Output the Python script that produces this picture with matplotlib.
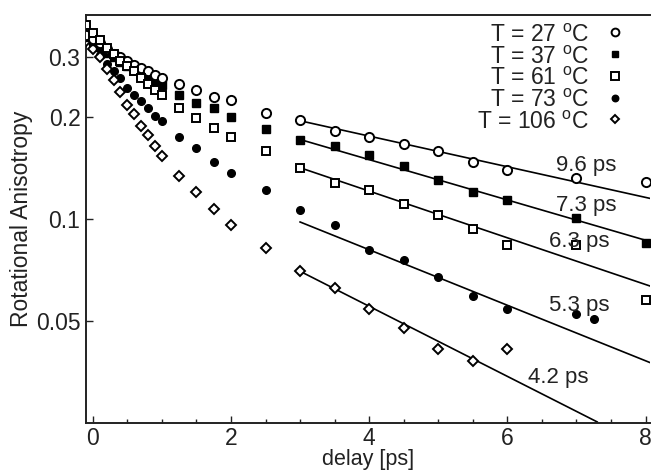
import numpy as np
import matplotlib
matplotlib.use('Agg')
import matplotlib.pyplot as plt
from matplotlib.ticker import FixedLocator, NullLocator, FixedFormatter, MultipleLocator

plt.rcParams['font.family'] = ['Liberation Sans', 'DejaVu Sans']
plt.rcParams['mathtext.fontset'] = 'custom'
plt.rcParams['mathtext.rm'] = 'Liberation Sans'

# delay times [ps]
t_early = [-0.1, 0.0, 0.1, 0.2, 0.3, 0.4, 0.5, 0.6, 0.7, 0.8, 0.9, 1.0]
t_late = [1.25, 1.5, 1.75, 2.0, 2.5, 3.0, 3.5, 4.0, 4.5, 5.0, 5.5, 6.0, 7.0, 8.0]

# anisotropy values per temperature
r_27 = [0.350, 0.340, 0.330, 0.318, 0.308, 0.300, 0.292, 0.285, 0.280, 0.274, 0.266, 0.261,
        0.251, 0.241, 0.229, 0.225, 0.205, 0.1955, 0.182, 0.175, 0.166, 0.159, 0.147, 0.140, 0.132, 0.129]
r_37 = [0.345, 0.335, 0.322, 0.310, 0.300, 0.290, 0.283, 0.275, 0.268, 0.260, 0.255, 0.248,
        0.233, 0.220, 0.212, 0.200, 0.185, 0.1715, 0.164, 0.154, 0.143, 0.130, 0.120, 0.1135, 0.101, 0.085]
r_61 = [0.373, 0.355, 0.337, 0.319, 0.307, 0.292, 0.283, 0.273, 0.261, 0.251, 0.241, 0.232,
        0.213, 0.199, 0.186, 0.1745, 0.159, 0.141, 0.128, 0.122, 0.111, 0.103, 0.0937, 0.084, 0.0836, 0.0578]
r_73 = [0.344, 0.324, 0.304, 0.286, 0.273, 0.261, 0.244, 0.233, 0.223, 0.213, 0.202, 0.1945,
        0.1745, 0.162, 0.147, 0.1367, 0.122, 0.106, 0.0958, 0.0809, 0.0756, 0.0674, 0.0593, 0.0541, 0.0523]
t_73_extra = [7.25]
r_73_extra = [0.0508]
r_106 = [0.335, 0.318, 0.300, 0.2765, 0.2565, 0.237, 0.2175, 0.204, 0.188, 0.1765, 0.164, 0.153,
         0.134, 0.120, 0.107, 0.0958, 0.0823, 0.0701, 0.0627, 0.0544, 0.0478, 0.0412, 0.0380, 0.0412]

# single exponential fits from 3 ps on
fit_tau = [9.6, 7.3, 6.3, 5.3, 4.2]
fit_amp = [0.195, 0.1717, 0.1417, 0.098, 0.0701]
fit_t0 = 3.0
fit_t1 = [8.1, 8.1, 8.1, 8.1, 7.3]
fit_labels = ['9.6 ps', '7.3 ps', '6.3 ps', '5.3 ps', '4.2 ps']
fit_label_pos = [(556, 166), (556, 205), (549, 241), (549, 305), (528, 377)]

labels = [r'T = 27 $^{\rm o}$C', r'T = 37 $^{\rm o}$C', r'T = 61 $^{\rm o}$C',
          r'T = 73 $^{\rm o}$C', r'T = 106 $^{\rm o}$C']

fs = 16.5
ink = '#222222'

fig = plt.figure(figsize=(6.51, 4.71), dpi=100)
ax = fig.add_axes([0.132, 0.102, 0.867, 0.866])

t_all = np.array(t_early + t_late)
ms = 6.3
mew = 1.4
style_73 = dict(marker='o', ms=ms - 0.8, color='k', ls='none')
style_106 = dict(marker='D', ms=ms - 1.6, mfc='white', mec='k', mew=mew, ls='none')
style_37 = dict(marker='s', ms=ms - 0.5, color='k', ls='none')
style_27 = dict(marker='o', ms=ms + 0.3, mfc='white', mec='k', mew=mew, ls='none')
style_61 = dict(marker='s', ms=ms, mfc='white', mec='k', mew=mew, ls='none')

ax.plot(t_all[:len(r_73)], r_73, zorder=3, **style_73)
ax.plot(t_73_extra, r_73_extra, zorder=3, **style_73)
ax.plot(t_all[:len(r_106)], r_106, zorder=3, **style_106)
ax.plot(t_all, r_37, zorder=4, **style_37)
ax.plot(t_all, r_27, zorder=5, **style_27)
ax.plot(t_all, r_61, zorder=6, **style_61)

for tau, amp, t1 in zip(fit_tau, fit_amp, fit_t1):
    tt = np.linspace(fit_t0, t1, 50)
    ax.plot(tt, amp * np.exp(-(tt - fit_t0) / tau), color='k', lw=1.2, zorder=2)

for lab, (px, py) in zip(fit_labels, fit_label_pos):
    fig.text(px / 651, 1 - py / 471, lab, fontsize=16, ha='left', va='center', color=ink)

# legend drawn by hand: right aligned text, marker on the right
leg_styles = [style_27, style_37, style_61, style_73, style_106]
for i, (lab, st) in enumerate(zip(labels, leg_styles)):
    y_base = 41.7 + i * 21.8
    fig.text(589 / 651, 1 - y_base / 471, lab, fontsize=fs, ha='right', va='baseline', color=ink)
    st = dict(st)
    st['ms'] = st['ms'] * 0.85
    ax.plot([615 / 651], [1 - (y_base - 9.5) / 471], transform=fig.transFigure, clip_on=False, **st)

ax.set_yscale('log')
ax.set_xlim(-0.1, 8.07)
ax.set_ylim(0.025, 0.40)
ax.yaxis.set_major_locator(FixedLocator([0.05, 0.1, 0.2, 0.3]))
ax.yaxis.set_major_formatter(FixedFormatter(['0.05', '0.1', '0.2', '0.3']))
ax.yaxis.set_minor_locator(NullLocator())
ax.xaxis.set_major_locator(MultipleLocator(2))
ax.xaxis.set_minor_locator(MultipleLocator(0.5))

ax.tick_params(which='both', direction='in', labelsize=fs, colors=ink, width=1)
ax.tick_params(which='major', length=5, pad=3)
ax.tick_params(which='minor', length=3)
ax.tick_params(axis='y', pad=4)
ax.spines['right'].set_visible(False)
for s in ['left', 'top', 'bottom']:
    ax.spines[s].set_linewidth(1.4)
    ax.spines[s].set_color(ink)

ax.set_xlabel('delay [ps]', fontsize=15.5, labelpad=-1, color=ink)
ax.set_ylabel('Rotational Anisotropy', fontsize=fs, labelpad=2, color=ink)

fig.savefig('out.png', dpi=100)
